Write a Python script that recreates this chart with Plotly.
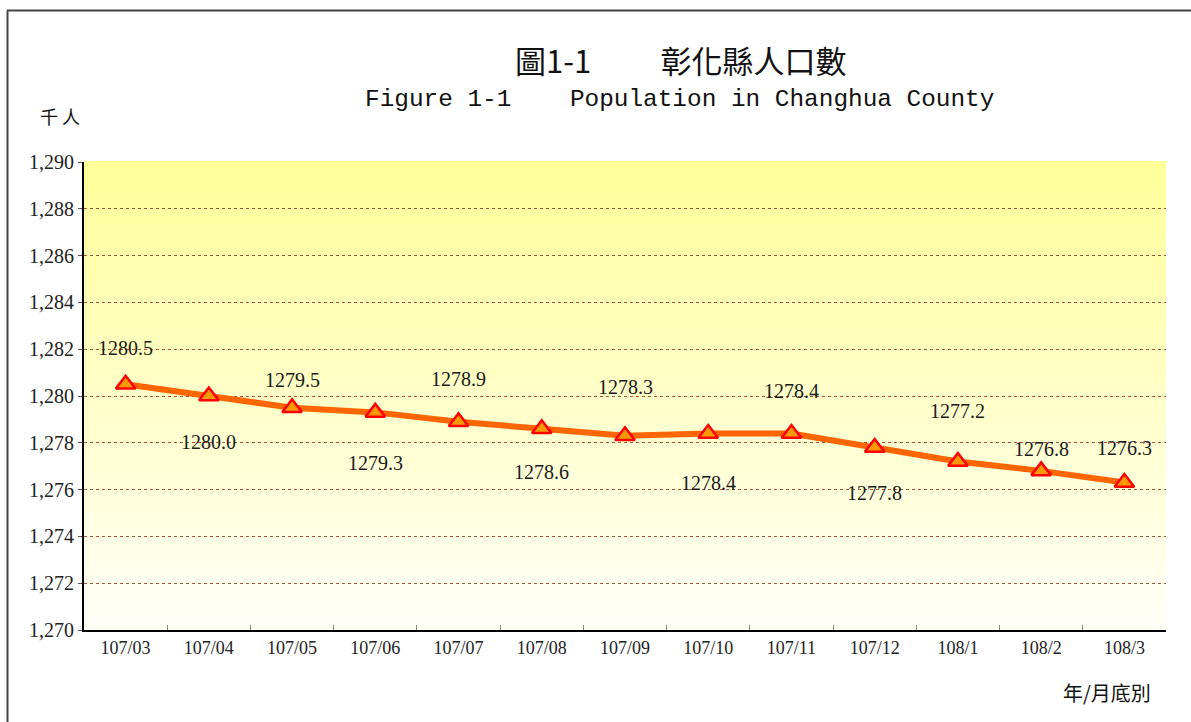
import plotly.graph_objects as go

# ---- data ----
months = ["107/03", "107/04", "107/05", "107/06", "107/07", "107/08", "107/09",
          "107/10", "107/11", "107/12", "108/1", "108/2", "108/3"]
population = [1280.5, 1280.0, 1279.5, 1279.3, 1278.9, 1278.6, 1278.3,
              1278.4, 1278.4, 1277.8, 1277.2, 1276.8, 1276.3]
y_ticks = [1270, 1272, 1274, 1276, 1278, 1280, 1282, 1284, 1286, 1288, 1290]

# label vertical offsets (style), in pixels
label_shift = [36, -46, 28, -51, 43, -43, 49, -50, 42, -46, 51, 22, 35]

fig = go.Figure()

# gradient background bands
n_bands = 80
top = (255, 255, 153)
bot = (255, 255, 248)
for i in range(n_bands):
    f = (i + 0.5) / n_bands
    c = tuple(round(bot[k] + (top[k] - bot[k]) * f) for k in range(3))
    fig.add_shape(type="rect", xref="x domain", yref="y domain",
                  x0=0, x1=1, y0=i / n_bands, y1=(i + 1) / n_bands + 0.002,
                  fillcolor="rgb(%d,%d,%d)" % c, line_width=0, layer="below")

fig.add_trace(go.Scatter(
    x=months, y=population, mode="lines+markers",
    line=dict(color="#FF6600", width=6),
    marker=dict(symbol="triangle-up", size=17, color="#FF9900",
                line=dict(color="#FF0000", width=2.5)),
    hoverinfo="skip", showlegend=False,
))

for m, v, s in zip(months, population, label_shift):
    fig.add_annotation(x=m, y=v, text=f"{v:.1f}", showarrow=False,
                       yshift=s, font=dict(family="Liberation Serif", size=20, color="#1a1a1a"))

PW, PH = 1082, 468  # plot area size in px
L, T = 84, 162      # plot area origin in window px


def px(x):
    return (x - L) / PW


def py(y):
    return 1 - (y - T) / PH


# frame around the figure (top and left edges)
frame_line = dict(color="#444", width=2)
fig.add_shape(type="line", xref="paper", yref="paper",
              x0=px(7), x1=px(1300), y0=py(10.5), y1=py(10.5), line=frame_line)
fig.add_shape(type="line", xref="paper", yref="paper",
              x0=px(7.5), x1=px(7.5), y0=py(10.5), y1=py(900), line=frame_line)

sp = "&nbsp;"
fig.add_annotation(xref="paper", yref="paper", x=px(681), y=py(60),
                   text="圖1-1" + sp * 10 + "彰化縣人口數", showarrow=False,
                   font=dict(family="Noto Sans CJK TC", size=31, color="#111"),
                   xanchor="center", yanchor="middle")
fig.add_annotation(xref="paper", yref="paper", x=px(679), y=py(99),
                   text="Figure 1-1" + sp * 4 + "Population in Changhua County", showarrow=False,
                   font=dict(family="Liberation Mono", size=24.4, color="#111"),
                   xanchor="center", yanchor="middle")
fig.add_annotation(xref="paper", yref="paper", x=px(60), y=py(116),
                   text="千" + sp + "人", showarrow=False,
                   font=dict(family="Noto Sans CJK TC", size=18, color="#111"),
                   xanchor="center", yanchor="middle")
fig.add_annotation(xref="paper", yref="paper", x=px(1107), y=py(692),
                   text="年/月底別", showarrow=False,
                   font=dict(family="Noto Sans CJK TC", size=20, color="#111"),
                   xanchor="center", yanchor="middle")

fig.update_layout(
    width=1191, height=722,
    margin=dict(l=84, r=25, t=162, b=92),
    paper_bgcolor="white", plot_bgcolor="white",
    showlegend=False,
)
fig.update_xaxes(
    type="category", range=[-0.5, len(months) - 0.5],
    showline=True, linecolor="black", linewidth=2,
    ticks="inside", tickson="boundaries", ticklen=5, tickcolor="#888",
    showgrid=False,
    tickfont=dict(family="Liberation Serif", size=18, color="#222"),
)
fig.update_yaxes(
    range=[1270, 1290], tickvals=y_ticks, tickformat=",.0f",
    showline=True, linecolor="black", linewidth=2,
    ticks="outside", ticklen=4, tickcolor="#555",
    showgrid=True, gridcolor="#B0503A", gridwidth=1, griddash="dot",
    zeroline=False,
    tickfont=dict(family="Liberation Serif", size=20, color="#222"),
)

fig.write_html("out.html", config={"displayModeBar": False},
               post_script="document.body.style.margin='0';document.body.style.overflow='hidden';")
